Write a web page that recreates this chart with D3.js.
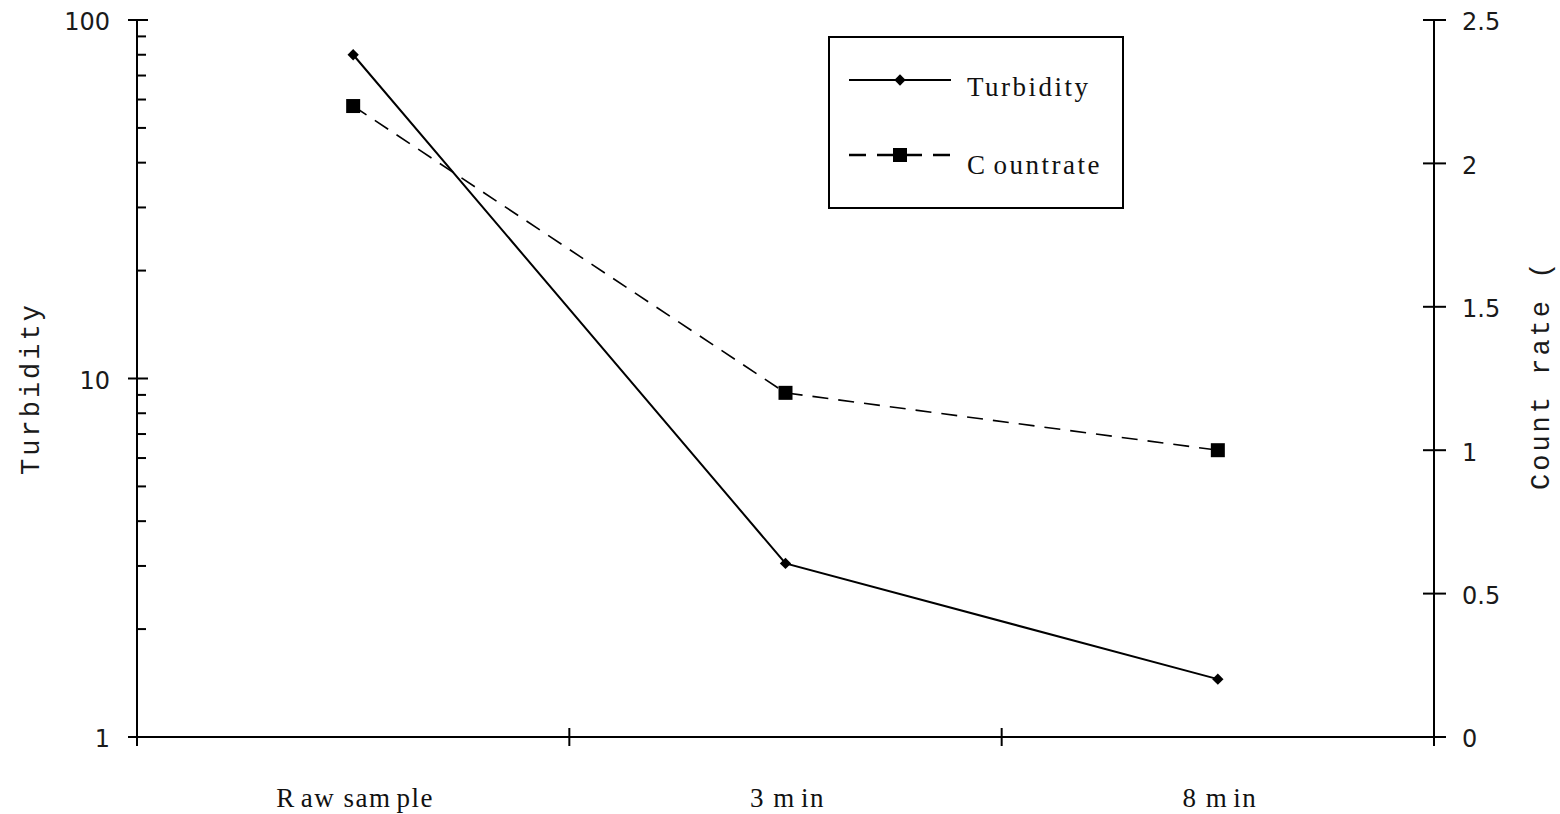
<!DOCTYPE html>
<html>
<head>
<meta charset="utf-8">
<script src="https://cdn.jsdelivr.net/npm/d3@7"></script>
<style>
  html, body { margin: 0; padding: 0; background: #fff; }
  svg { display: block; }
  .tick-label { font-family: "DejaVu Sans", sans-serif; font-size: 24px; fill: #1a1a1a; }
  .axis-title { font-family: "Liberation Mono", monospace; font-size: 27px; fill: #1a1a1a; letter-spacing: 3px; }
  .cat-label, .legend-label { font-family: "Liberation Serif", "Times New Roman", serif; font-size: 27px; fill: #111; letter-spacing: 1.5px; }
  .legend-label { letter-spacing: 2.5px; }
</style>
</head>
<body>
<svg id="chart" width="1560" height="814"></svg>
<script>
// Sample stages along the x axis, each split into text runs (gap drawn before every run after the first)
const categories = ["Raw sample", "3 min", "8 min"];
const categoryRuns = [["R", "aw sam", "ple"], ["3 m", "in"], ["8 m", "in"]];
// Left axis: turbidity (log scale)
const turbidity = [80, 3.05, 1.45];
// Right axis: count rate
const countRate = [2.2, 1.2, 1.0];
const leftTicks = [1, 10, 100];
const rightTicks = [0, 0.5, 1, 1.5, 2, 2.5];
const seriesNames = ["Turbidity", "Countrate"];
const seriesRuns = [["Turbidity"], ["C", "ountrate"]];

const svg = d3.select("#chart");
const plotL = 137, plotR = 1434, plotT = 20, plotB = 737;

// Three equal bands across the plot; points sit at band centres
const bandW = (plotR - plotL) / 3;
const xc = d3.scalePoint().domain(categories).range([plotL + bandW / 2, plotR - bandW / 2]);

const yL = d3.scaleLog().domain([1, 100]).range([plotB, plotT]);
const yR = d3.scaleLinear().domain([0, 2.5]).range([plotB, plotT]);

const ink = "#000";

function runs(sel, parts, gap) {
  parts.forEach((p, i) => sel.append("tspan").attr("dx", i ? gap : 0).text(p));
}

// Left axis line
svg.append("line").attr("x1", plotL).attr("x2", plotL).attr("y1", plotT).attr("y2", plotB)
  .attr("stroke", ink).attr("stroke-width", 2);
// Left major ticks (crossing) and minor ticks (inside)
leftTicks.forEach(v => {
  svg.append("line").attr("x1", plotL - 9).attr("x2", plotL + 11)
    .attr("y1", yL(v)).attr("y2", yL(v)).attr("stroke", ink).attr("stroke-width", 2);
  svg.append("text").attr("class", "tick-label").attr("x", plotL - 27).attr("y", yL(v) + 2)
    .attr("dy", "0.35em").attr("text-anchor", "end").text(v);
});
const minor = [];
[1, 10].forEach(d => { for (let k = 2; k <= 9; k++) minor.push(d * k); });
minor.forEach(v => {
  svg.append("line").attr("x1", plotL).attr("x2", plotL + 9)
    .attr("y1", yL(v)).attr("y2", yL(v)).attr("stroke", ink).attr("stroke-width", 2);
});

// Right axis
svg.append("line").attr("x1", plotR).attr("x2", plotR).attr("y1", plotT).attr("y2", plotB)
  .attr("stroke", ink).attr("stroke-width", 2);
rightTicks.forEach(v => {
  svg.append("line").attr("x1", plotR - 11).attr("x2", plotR + 12)
    .attr("y1", yR(v)).attr("y2", yR(v)).attr("stroke", ink).attr("stroke-width", 2);
  svg.append("text").attr("class", "tick-label").attr("x", plotR + 28).attr("y", yR(v) + 2)
    .attr("dy", "0.35em").attr("text-anchor", "start").text(v);
});

// Bottom axis
svg.append("line").attr("x1", plotL).attr("x2", plotR).attr("y1", plotB).attr("y2", plotB)
  .attr("stroke", ink).attr("stroke-width", 2);
const bounds = d3.range(4).map(i => plotL + i * bandW);
bounds.forEach(bx => {
  svg.append("line").attr("x1", bx).attr("x2", bx).attr("y1", plotB - 9).attr("y2", plotB + 9)
    .attr("stroke", ink).attr("stroke-width", 2);
});
categories.forEach((c, i) => {
  const t = svg.append("text").attr("class", "cat-label").attr("x", xc(c) + 2).attr("y", plotB + 70)
    .attr("text-anchor", "middle");
  runs(t, categoryRuns[i], 5);
});

// Axis titles
svg.append("text").attr("class", "axis-title")
  .attr("transform", `translate(39,${(plotT + plotB) / 2 + 10}) rotate(-90)`)
  .attr("text-anchor", "middle").text("Turbidity");
svg.append("text").attr("class", "axis-title")
  .attr("transform", `translate(1549,490) rotate(-90)`)
  .attr("text-anchor", "start").text("Count rate (");

// Turbidity series
const lineT = d3.line().x((d, i) => xc(categories[i])).y(d => yL(d));
svg.append("path").attr("d", lineT(turbidity)).attr("fill", "none")
  .attr("stroke", ink).attr("stroke-width", 2);
turbidity.forEach((v, i) => {
  svg.append("path").attr("d", d3.symbol().type(d3.symbolSquare).size(64)())
    .attr("transform", `translate(${xc(categories[i])},${yL(v)}) rotate(45)`).attr("fill", ink);
});

// Count rate series
const lineC = d3.line().x((d, i) => xc(categories[i])).y(d => yR(d));
svg.append("path").attr("d", lineC(countRate)).attr("fill", "none")
  .attr("stroke", ink).attr("stroke-width", 1.6).attr("stroke-dasharray", "16,10");
countRate.forEach((v, i) => {
  svg.append("rect").attr("x", xc(categories[i]) - 7).attr("y", yR(v) - 7)
    .attr("width", 14).attr("height", 14).attr("fill", ink);
});

// Legend
const lg = svg.append("g");
lg.append("rect").attr("x", 829).attr("y", 37).attr("width", 294).attr("height", 171)
  .attr("fill", "#fff").attr("stroke", ink).attr("stroke-width", 2);
lg.append("line").attr("x1", 849).attr("x2", 951).attr("y1", 80).attr("y2", 80)
  .attr("stroke", ink).attr("stroke-width", 2);
lg.append("path").attr("d", d3.symbol().type(d3.symbolSquare).size(64)())
  .attr("transform", "translate(900,80) rotate(45)").attr("fill", ink);
lg.append("line").attr("x1", 849).attr("x2", 951).attr("y1", 155).attr("y2", 155)
  .attr("stroke", ink).attr("stroke-width", 2.5).attr("stroke-dasharray", "17,11");
lg.append("rect").attr("x", 893).attr("y", 148).attr("width", 14).attr("height", 14).attr("fill", ink);
[96, 174].forEach((yy, i) => {
  const t = lg.append("text").attr("class", "legend-label").attr("x", 967).attr("y", yy);
  runs(t, seriesRuns[i], 6);
});
</script>
</body>
</html>
